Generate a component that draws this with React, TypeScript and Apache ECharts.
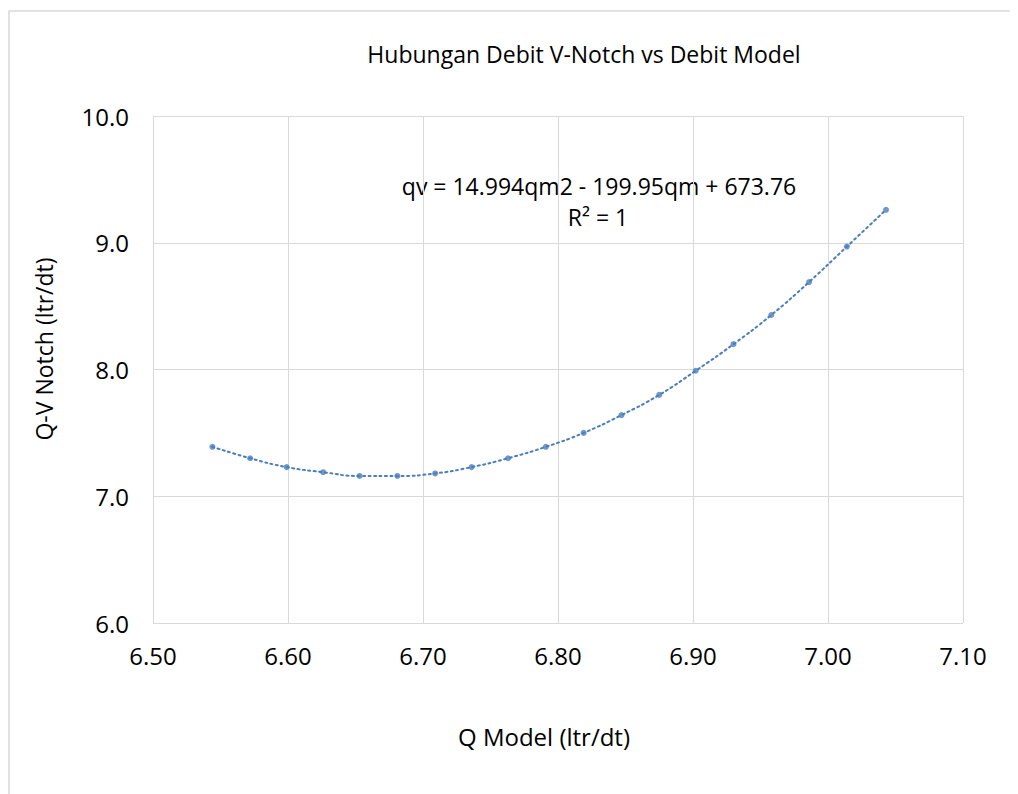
import React, { useEffect, useRef } from "react";
import * as echarts from "echarts";

const qModel = [6.544, 6.572, 6.599, 6.626, 6.653, 6.681, 6.709, 6.736, 6.763, 6.791, 6.819, 6.847, 6.875, 6.902, 6.930, 6.958, 6.986, 7.014, 7.043];
const qVNotch = [7.39, 7.30, 7.23, 7.19, 7.16, 7.16, 7.18, 7.23, 7.30, 7.39, 7.50, 7.64, 7.80, 7.99, 8.20, 8.43, 8.69, 8.97, 9.26];

const titleText = "Hubungan Debit V-Notch vs Debit Model";
const equationText = "qv = 14.994qm2 - 199.95qm + 673.76";
const r2Text = "R² = 1";
const xName = "Q Model (ltr/dt)";
const yName = "Q-V Notch (ltr/dt)";

const FONT = "Open Sans";
const BLUE = "#4a7ebb";
const GRID = "#d9d9d9";

export default function App() {
  const ref = useRef<HTMLDivElement>(null);
  useEffect(() => {
    if (!ref.current) return;
    const chart = echarts.init(ref.current, undefined, { renderer: "svg" });
    const pts = qModel.map((x, i) => [x, qVNotch[i]]);
    const txt = (text: string, x: number, y: number, size: number, rotation = 0) => ({
      type: "text",
      x,
      y,
      rotation,
      style: {
        text,
        font: `${size}px "${FONT}"`,
        fill: "#000",
        align: "center",
        verticalAlign: "middle",
      },
    });
    chart.setOption({
      animation: false,
      backgroundColor: "#fff",
      textStyle: { fontFamily: FONT },
      grid: { left: 145, top: 108, width: 810, height: 507 },
      xAxis: {
        type: "value",
        min: 6.5,
        max: 7.1,
        interval: 0.1,
        axisLine: { show: false },
        axisTick: { show: false },
        splitLine: { show: true, lineStyle: { color: GRID, width: 1 } },
        axisLabel: {
          margin: 20,
          fontFamily: FONT,
          fontSize: 24,
          color: "#000",
          formatter: (v: number) => v.toFixed(2),
        },
      },
      yAxis: {
        type: "value",
        min: 6,
        max: 10,
        interval: 1,
        axisLine: { show: false },
        axisTick: { show: false },
        splitLine: { show: true, lineStyle: { color: GRID, width: 1 } },
        axisLabel: {
          margin: 24,
          fontFamily: FONT,
          fontSize: 24,
          color: "#000",
          formatter: (v: number) => v.toFixed(1),
        },
      },
      graphic: [
        {
          type: "rect",
          silent: true,
          shape: { x: 1, y: 3, width: 1200, height: 1000 },
          style: { fill: "none", stroke: GRID, lineWidth: 1.5 },
        },
        txt(titleText, 576, 46, 23),
        txt(equationText, 591, 178, 23),
        txt(r2Text, 590, 209, 23),
        txt(xName, 536, 728, 24),
        txt(yName, 36, 341, 23, Math.PI / 2),
      ],
      series: [
        {
          type: "line",
          data: pts,
          smooth: 0.5,
          showSymbol: false,
          symbol: "none",
          lineStyle: { color: BLUE, width: 2, type: [2, 3.5], cap: "round" },
          z: 2,
        },
        {
          type: "scatter",
          data: pts,
          symbol: "circle",
          symbolSize: 6,
          itemStyle: { color: BLUE },
          z: 3,
        },
      ],
    });
    return () => chart.dispose();
  }, []);
  return <div ref={ref} style={{ width: 1010, height: 786 }} />;
}
